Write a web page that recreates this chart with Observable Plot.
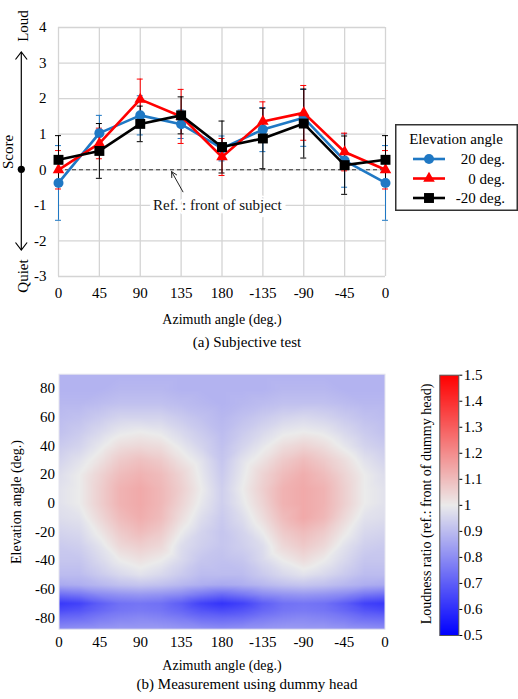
<!DOCTYPE html>
<html><head><meta charset="utf-8">
<script src="https://cdn.jsdelivr.net/npm/d3@7"></script>
<script src="https://cdn.jsdelivr.net/npm/@observablehq/plot@0.6"></script>
<style>
html,body{margin:0;padding:0;background:#fff;}
#root{position:relative;width:518px;height:699px;overflow:hidden;font-family:"Liberation Serif","Times New Roman",serif;color:#000;}
.lbl{position:absolute;white-space:nowrap;transform:translate(-50%,-50%);line-height:1;}
.rot{transform:translate(-50%,-50%) rotate(-90deg);}
</style></head><body><div id="root"></div>
<script>
// ---------- (a) Subjective test ----------
const azimuthLabels = ["0","45","90","135","180","-135","-90","-45","0"];
const scoreTicks = [-3,-2,-1,0,1,2,3,4];
const seriesNames = ["20 deg.","0 deg.","-20 deg."];
const seriesColors = ["#1f78c4","#ff0000","#000000"];
const seriesSymbols = ["circle","triangle","square"];
const score20 = [-0.37, 1.03, 1.53, 1.28, 0.6, 1.13, 1.46, 0.26, -0.37];
const error20 = [1.05, 0.5, 0.55, 0.4, 0.35, 0.62, 0.8, 0.75, 1.05];
const score0 = [0.0, 0.74, 1.98, 1.5, 0.36, 1.36, 1.6, 0.5, 0.0];
const error0 = [0.54, 0.43, 0.57, 0.76, 0.52, 0.55, 0.77, 0.53, 0.54];
const scoreM20 = [0.28, 0.53, 1.29, 1.53, 0.64, 0.88, 1.3, 0.13, 0.28];
const errorM20 = [0.68, 0.77, 0.5, 0.52, 0.73, 0.85, 0.97, 0.82, 0.68];
const refNote = [{x: 104, y: -1, text: "Ref. : front of subject"}];
const refArrow = [{x1: 137, y1: -0.62, x2: 124.5, y2: -0.05}];

// ---------- (b) Measurement using dummy head ----------
const elevationTicks = [-80,-60,-40,-20,0,20,40,60,80];
const colorbarTicks = [0.5,0.6,0.7,0.8,0.9,1,1.1,1.2,1.3,1.4,1.5];
const heatAzimuths = [0,22.5,45,67.5,90,112.5,135,157.5,180,202.5,225,247.5,270,292.5,315,337.5,360];
const heatElevations = [90,80,70,60,50,40,30,20,10,0,-10,-20,-30,-40,-50,-57,-64,-70,-75,-80,-88];
const loudnessRows = [
 [0.88,0.88,0.88,0.88,0.88,0.88,0.88,0.88,0.88,0.88,0.88,0.88,0.88,0.88,0.88,0.88,0.88],
 [0.88,0.88,0.88,0.89,0.89,0.89,0.88,0.88,0.88,0.88,0.88,0.89,0.89,0.89,0.88,0.88,0.88],
 [0.89,0.89,0.9,0.91,0.91,0.91,0.9,0.89,0.88,0.89,0.9,0.91,0.91,0.91,0.9,0.89,0.89],
 [0.9,0.91,0.93,0.95,0.95,0.95,0.93,0.91,0.89,0.91,0.93,0.95,0.96,0.95,0.93,0.91,0.9],
 [0.91,0.93,0.96,0.99,1.0,0.99,0.96,0.93,0.9,0.93,0.96,0.99,1.0,0.99,0.96,0.93,0.91],
 [0.93,0.95,0.99,1.03,1.04,1.03,0.99,0.95,0.91,0.95,0.99,1.03,1.05,1.03,0.99,0.95,0.93],
 [0.95,0.98,1.02,1.07,1.09,1.07,1.02,0.98,0.92,0.98,1.02,1.07,1.1,1.07,1.03,0.98,0.95],
 [0.97,1.0,1.05,1.1,1.12,1.1,1.05,0.99,0.93,0.99,1.05,1.1,1.13,1.1,1.05,1.0,0.97],
 [0.98,1.0,1.06,1.12,1.14,1.11,1.06,1.0,0.94,1.0,1.06,1.12,1.14,1.12,1.06,1.0,0.98],
 [0.98,1.0,1.06,1.12,1.14,1.11,1.05,0.99,0.94,0.99,1.05,1.12,1.14,1.12,1.06,1.0,0.98],
 [0.97,0.98,1.04,1.1,1.13,1.1,1.03,0.97,0.93,0.97,1.03,1.1,1.14,1.11,1.04,0.98,0.97],
 [0.95,0.96,1.01,1.07,1.1,1.07,1.0,0.95,0.92,0.95,1.0,1.07,1.1,1.07,1.01,0.96,0.95],
 [0.93,0.94,0.98,1.04,1.06,1.04,0.97,0.94,0.92,0.94,0.97,1.04,1.07,1.04,0.98,0.94,0.93],
 [0.92,0.92,0.96,1.0,1.02,1.0,0.96,0.92,0.91,0.92,0.96,1.0,1.03,1.0,0.96,0.92,0.92],
 [0.9,0.9,0.93,0.96,0.98,0.96,0.93,0.9,0.9,0.9,0.93,0.96,0.98,0.96,0.93,0.9,0.9],
 [0.86,0.87,0.89,0.91,0.92,0.91,0.89,0.87,0.86,0.87,0.89,0.91,0.92,0.91,0.89,0.87,0.86],
 [0.73,0.75,0.79,0.81,0.82,0.81,0.79,0.75,0.72,0.75,0.79,0.81,0.82,0.81,0.79,0.75,0.73],
 [0.62,0.64,0.7,0.74,0.75,0.74,0.7,0.64,0.61,0.64,0.7,0.74,0.75,0.74,0.7,0.64,0.62],
 [0.66,0.68,0.72,0.75,0.76,0.75,0.72,0.68,0.66,0.68,0.72,0.75,0.76,0.75,0.72,0.68,0.66],
 [0.72,0.73,0.76,0.78,0.79,0.78,0.76,0.73,0.72,0.73,0.76,0.78,0.79,0.78,0.76,0.73,0.72],
 [0.8,0.81,0.82,0.83,0.83,0.83,0.82,0.81,0.8,0.81,0.82,0.83,0.83,0.83,0.82,0.81,0.8]
];

// ---------- build ----------
const root = document.getElementById("root");
const FONT = '"Liberation Serif","Times New Roman",serif';
const azX = i => i * 45;
const xTickVals = azimuthLabels.map((_, i) => azX(i));
const xFmt = d => azimuthLabels[Math.round(d / 45)];

const scores = [score20, score0, scoreM20];
const errors = [error20, error0, errorM20];
const seriesData = seriesNames.map((name, s) => scores[s].map((v, i) => ({
  name, s, x: azX(i), y: v, lo: v - errors[s][i], hi: v + errors[s][i]
})));

const seriesMarks = [];
seriesData.forEach((data, s) => {
  const c = seriesColors[s];
  seriesMarks.push(
    Plot.ruleX(data, {x: "x", y1: "lo", y2: "hi", stroke: c, strokeWidth: 1}),
    Plot.ruleY(data, {y: "lo", x1: d => d.x - 3.3, x2: d => d.x + 3.3, stroke: c, strokeWidth: 1}),
    Plot.ruleY(data, {y: "hi", x1: d => d.x - 3.3, x2: d => d.x + 3.3, stroke: c, strokeWidth: 1})
  );
});
seriesData.forEach((data, s) => {
  const c = seriesColors[s];
  const r = s === 0 ? 5 : s === 1 ? 4.3 : 5.6;
  seriesMarks.push(
    Plot.line(data, {x: "x", y: "y", stroke: c, strokeWidth: 2.6}),
    Plot.dot(data, {x: "x", y: "y", fill: c, stroke: "none", r, symbol: seriesSymbols[s]})
  );
});

const topChart = Plot.plot({
  width: 518, height: 305,
  marginLeft: 58, marginRight: 133, marginTop: 27, marginBottom: 29,
  style: {position: "absolute", left: "0px", top: "0px", fontFamily: FONT, fontSize: "15px", background: "transparent", overflow: "visible"},
  x: {domain: [0, 360], ticks: xTickVals, tickFormat: xFmt, tickSize: 0, tickPadding: 11, label: null},
  y: {domain: [-3, 4], ticks: scoreTicks, tickFormat: d => String(d), tickSize: 0, tickPadding: 12, label: null},
  marks: [
    Plot.ruleX(xTickVals, {stroke: "#d4d4d4", strokeWidth: 1.3}),
    Plot.ruleY(scoreTicks, {stroke: "#d4d4d4", strokeWidth: 1.3}),
    Plot.ruleY([0], {stroke: "#333", strokeWidth: 1.1, strokeDasharray: "4,3"}),
    Plot.text(refNote, {x: "x", y: "y", text: "text", textAnchor: "start", fontSize: 15, fill: "white", stroke: "white", strokeWidth: 9}),
    Plot.text(refNote, {x: "x", y: "y", text: "text", textAnchor: "start", fontSize: 15, fill: "#111"}),
    Plot.arrow(refArrow, {x1: "x1", y1: "y1", x2: "x2", y2: "y2", stroke: "#222", strokeWidth: 1, headLength: 9, headAngle: 55}),
    ...seriesMarks
  ]
});
root.appendChild(topChart);

// left "Score" decoration
const deco = d3.select(root).append("svg")
  .attr("width", 58).attr("height", 305)
  .style("position", "absolute").style("left", "0px").style("top", "0px")
  .style("font-family", FONT).style("font-size", "15px");
deco.append("line").attr("x1", 21.3).attr("x2", 21.3).attr("y1", 52).attr("y2", 250).attr("stroke", "#000").attr("stroke-width", 1.2);
deco.append("path").attr("d", "M15.5,59.5L21.3,52L27.1,59.5M15.5,242.5L21.3,250L27.1,242.5").attr("fill", "none").attr("stroke", "#000").attr("stroke-width", 1.2);
deco.append("circle").attr("cx", 21.3).attr("cy", 169.3).attr("r", 3.6).attr("fill", "#000");
[["Loud", 23, 26], ["Quiet", 23, 276], ["Score", 8, 152]].forEach(([t, x, y]) => {
  deco.append("text").attr("transform", `translate(${x},${y}) rotate(-90)`)
    .attr("text-anchor", "middle").attr("dy", "0.35em").text(t);
});

// legend
const leg = d3.select(root).append("svg")
  .attr("width", 123).attr("height", 88)
  .style("position", "absolute").style("left", "395px").style("top", "124px")
  .style("font-family", FONT).style("font-size", "15px");
leg.append("rect").attr("x", 0.75).attr("y", 0.75).attr("width", 121.5).attr("height", 85.5)
  .attr("fill", "white").attr("stroke", "#333").attr("stroke-width", 1.5);
leg.append("text").attr("x", 61).attr("y", 20).attr("text-anchor", "middle").text("Elevation angle");
const symMap = {circle: d3.symbolCircle, triangle: d3.symbolTriangle, square: d3.symbolSquare};
seriesNames.forEach((name, s) => {
  const y = 35 + s * 19.5;
  const r = s === 0 ? 5 : s === 1 ? 4.3 : 5.6;
  leg.append("line").attr("x1", 18).attr("x2", 50).attr("y1", y).attr("y2", y).attr("stroke", seriesColors[s]).attr("stroke-width", 2.6);
  leg.append("path").attr("transform", `translate(34,${y})`).attr("d", d3.symbol(symMap[seriesSymbols[s]], Math.PI * r * r)()).attr("fill", seriesColors[s]);
  leg.append("text").attr("x", 110).attr("y", y).attr("dy", "0.35em").attr("text-anchor", "end").text(name);
});

function addLabel(text, x, y, size, rotate) {
  const d = document.createElement("div");
  d.className = "lbl" + (rotate ? " rot" : "");
  d.style.left = x + "px"; d.style.top = y + "px"; d.style.fontSize = size + "px";
  d.textContent = text;
  root.appendChild(d);
}
addLabel("Azimuth angle (deg.)", 222, 320, 14);
addLabel("(a) Subjective test", 247, 342, 15);

// ---------- heatmap ----------
const heatData = heatElevations.flatMap((el, i) => heatAzimuths.map((az, j) => ({az, el, v: loudnessRows[i][j]})));
const colorScale = {type: "linear", domain: [0.5, 1, 1.5], range: ["#0000ff", "#ebebeb", "#ff0000"], interpolate: "rgb", clamp: true};

const bottomChart = Plot.plot({
  width: 518, height: 300,
  marginLeft: 58.5, marginRight: 133.5, marginTop: 13.7, marginBottom: 31.3,
  style: {position: "absolute", left: "0px", top: "360px", fontFamily: FONT, fontSize: "15px", background: "transparent", overflow: "visible"},
  x: {domain: [0, 360], ticks: xTickVals, tickFormat: xFmt, tickSize: 0, tickPadding: 7, label: null},
  y: {domain: [-88, 90], ticks: elevationTicks, tickFormat: d => String(d), tickSize: 0, tickPadding: 4, label: null},
  color: colorScale,
  marks: [
    Plot.raster(heatData, {x: "az", y: "el", fill: "v", interpolate: "barycentric", pixelSize: 1}),
    Plot.frame({stroke: "#e4e4ee", strokeWidth: 1})
  ]
});
root.appendChild(bottomChart);

const cbar = Plot.plot({
  width: 98, height: 290,
  marginLeft: 19.3, marginRight: 59.7, marginTop: 14.7, marginBottom: 15,
  style: {position: "absolute", left: "420px", top: "360px", fontFamily: FONT, fontSize: "15px", background: "transparent", overflow: "visible"},
  x: {domain: [0, 1], axis: null},
  y: {domain: [0.5, 1.5], ticks: colorbarTicks, tickFormat: d => String(d), axis: "right", tickSize: 3, tickPadding: 2, label: null},
  color: colorScale,
  marks: [
    Plot.raster({x1: 0, x2: 1, y1: 0.5, y2: 1.5, fill: (x, y) => y, pixelSize: 1}),
    Plot.frame({stroke: "#555", strokeWidth: 1})
  ]
});
root.appendChild(cbar);

addLabel("Elevation angle (deg.)", 17, 502, 14, true);
addLabel("Loudness ratio (ref.: front of dummy head)", 427, 504, 14, true);
addLabel("Azimuth angle (deg.)", 222, 666, 14);
addLabel("(b) Measurement using dummy head", 247, 684, 15);
</script></body></html>
